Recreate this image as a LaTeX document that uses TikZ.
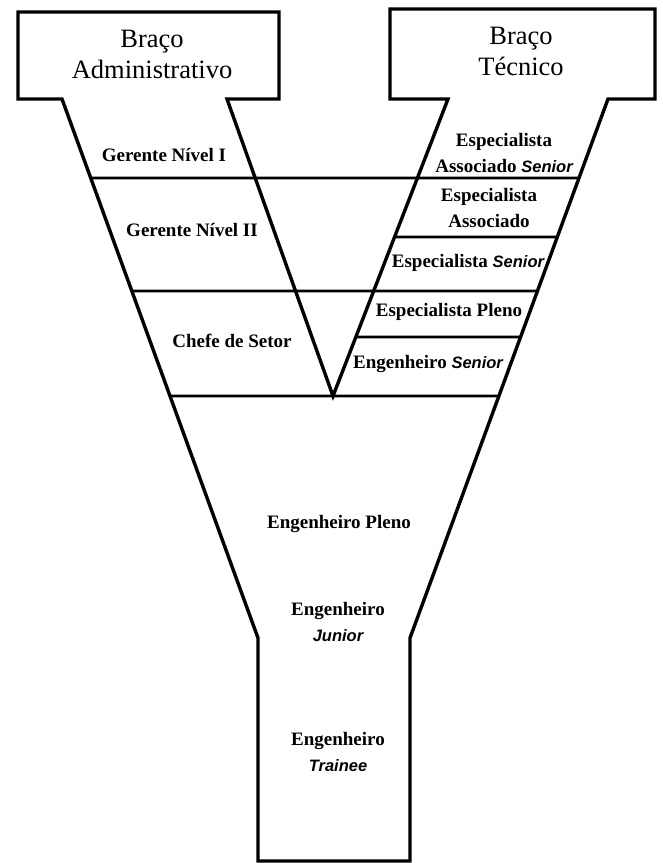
\documentclass[tikz,border=0pt]{standalone}
\usepackage{fontspec}
\setmainfont{Liberation Serif}
\newfontfamily\labsans{Liberation Sans}
\begin{document}
\begin{tikzpicture}[x=1pt,y=-1pt,
  outline/.style={line width=3.4pt,line join=miter,line cap=rect},
  divider/.style={line width=2.8pt},
  headtxt/.style={font=\fontsize{26.5}{31}\selectfont,align=center,inner sep=0pt},
  rank/.style={font=\fontsize{19}{26}\selectfont\bfseries,align=center,inner sep=0pt}]
\newcommand{\grade}[1]{{\labsans\bfseries\itshape\fontsize{16.5}{26}\selectfont #1}}
\useasboundingbox (0,0) rectangle (662,863);

% key points of the outline
\coordinate (LBtl) at (18,12);   \coordinate (LBtr) at (279,12);
\coordinate (LBbr) at (279,99);  \coordinate (LBbl) at (18,99);
\coordinate (RBtl) at (390,9);   \coordinate (RBtr) at (655,9);
\coordinate (RBbr) at (655,99);  \coordinate (RBbl) at (390,99);
\coordinate (Lout) at (62,99);   \coordinate (Lin)  at (227,99);
\coordinate (Rin)  at (448,99);  \coordinate (Rout) at (608,99);
\coordinate (V)    at (333,396);
\coordinate (Lknee) at (258,638); \coordinate (Rknee) at (410,638);
\coordinate (Lfoot) at (258,861); \coordinate (Rfoot) at (410,861);

% Y-shaped outline with the two heading boxes
\draw[outline] (Lout) -- (LBbl) -- (LBtl) -- (LBtr) -- (LBbr) -- (Lin) -- (V)
  -- (Rin) -- (RBbl) -- (RBtl) -- (RBtr) -- (RBbr) -- (Rout) -- (Rknee)
  -- (Rfoot) -- (Lfoot) -- (Lknee) -- cycle;

% horizontal dividers, clipped to the edges
\foreach \yy/\a/\b in {178/Lout/Rout, 291/Lout/Rout, 396/Lout/Rout}{
  \draw[divider] (intersection of \a--Lknee and 0,\yy--662,\yy)
              -- (intersection of \b--Rknee and 0,\yy--662,\yy);}
\foreach \yy in {237,337}{
  \draw[divider] (intersection of Rin--V and 0,\yy--662,\yy)
              -- (intersection of Rout--Rknee and 0,\yy--662,\yy);}

% headings
\node[headtxt] (adm) at (152,54) {Braço\\Administrativo};
\node[headtxt] (tec) at (521,51) {Braço\\Técnico};

% administrative branch
\node[rank] (g1) at (164,155) {Gerente Nível I};
\node[rank] (g2) at (192,230) {Gerente Nível II};
\node[rank] (cs) at (232,341) {Chefe de Setor};

% technical branch
\node[rank] (eas) at (504,153) {Especialista\\Associado \grade{Senior}};
\node[rank] (ea)  at (489,208) {Especialista\\Associado};
\node[rank] (es)  at (468,263) {Especialista \grade{Senior}};
\node[rank] (ep)  at (449,312) {Especialista Pleno};
\node[rank] (ens) at (428,364) {Engenheiro \grade{Senior}};

% common trunk
\node[rank] (enp) at (339,524) {Engenheiro Pleno};
\node[rank] (enj) at (338,622) {Engenheiro\\\grade{Junior}};
\node[rank] (ent) at (338,752) {Engenheiro\\\grade{Trainee}};
\end{tikzpicture}
\end{document}
